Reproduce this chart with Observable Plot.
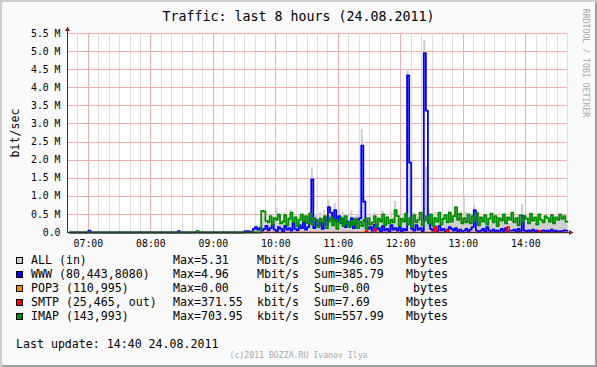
<!DOCTYPE html>
<html><head><meta charset="utf-8">
<script src="https://cdn.jsdelivr.net/npm/d3@7"></script>
<script src="https://cdn.jsdelivr.net/npm/@observablehq/plot@0.6"></script>
<style>
body{margin:0;background:#fff}
#wrap{position:relative;width:597px;height:367px;background:#FAFAFA;box-shadow:inset 2px 2px 0 #CECECE, inset -2px -2px 0 #9E9E9E;font-family:"DejaVu Sans Mono",monospace;color:#000;overflow:hidden}
#wrap svg{position:absolute;left:0;top:0}
#wrap svg line{shape-rendering:crispEdges}
.t{position:absolute;white-space:pre;line-height:1}
.sq{position:absolute;box-sizing:border-box;border:1px solid #000}
</style>
</head><body>
<div id="wrap"></div>
<script>
// ---- data: 2-minute samples starting 06:40 (240 samples), values in Mbit/s ----
const startLabel = "06:40";
const endLabel = "14:40";
const stepMinutes = 2;

const allIn = [
0,0,0,0,0,0.03,0,0,0,0,
0.04,0,0,0,0,0,0,0,0,0,
0,0,0,0,0,0,0,0,0,0,
0,0,0,0,0,0.02,0,0,0,0,
0.02,0,0,0,0,0,0,0,0,0,
0,0,0,0.04,0,0,0,0,0,0,
0,0,0.06,0,0,0.03,0.02,0,0,0,
0,0,0,0,0,0,0,0,0,0,
0,0,0.01,0,0.03,0.05,0.04,0.05,0.03,0.12,
0.20,0.10,0.18,0.30,0.45,0.25,0.35,0.20,0.40,0.30,
0.68,0.25,0.45,0.30,0.55,0.20,0.40,0.62,0.30,0.45,
0.25,0.50,0.35,0.48,0.30,0.40,0.55,1.78,0.30,0.50,
0.40,0.55,0.30,0.60,0.45,0.90,0.70,0.50,0.80,0.45,
0.65,0.40,0.55,0.30,0.50,0.35,0.60,0.25,0.45,0.50,
0.60,2.84,1.00,0.45,0.30,0.50,0.25,0.55,0.35,0.45,
0.30,0.60,0.35,0.45,0.25,0.55,0.40,0.86,0.35,0.50,
0.30,0.45,0.35,4.47,2.00,0.40,0.55,0.35,0.45,0.30,
0.50,5.31,1.82,0.60,0.40,0.30,0.55,0.35,0.45,0.25,
0.50,0.40,0.35,0.60,0.45,0.30,0.55,0.40,0.45,0.35,
1.04,0.55,0.40,0.35,0.45,0.75,0.35,0.45,0.25,0.40,
0.30,0.50,0.35,0.25,0.45,0.30,0.40,0.28,0.35,0.45,
0.30,0.40,0.25,0.45,0.35,0.30,0.50,0.28,0.77,0.40,
0.30,0.45,0.35,0.50,0.25,0.38,0.42,0.30,0.35,0.45,
0.28,0.40,0.35,0.45,0.30,0.38,0.42,0.35,0.40,0.30];

const www = [
0,0,0,0,0,0,0,0,0,0,
0.05,0,0,0,0,0,0,0,0,0,
0,0,0,0,0,0,0,0,0,0,
0,0,0,0,0,0,0,0,0,0,
0,0,0,0,0,0,0,0,0,0,
0,0,0,0.04,0,0,0,0,0,0,
0,0,0.03,0,0,0,0,0,0,0,
0,0,0,0,0,0,0,0,0,0,
0,0,0,0,0,0.04,0.04,0.03,0.02,0.10,
0.15,0.08,0.12,0.05,0.10,0.18,0.06,0.12,0.22,0.08,
0.04,0.15,0.10,0.03,0.18,0.08,0.12,0.05,0.25,0.10,
0.06,0.20,0.12,0.30,0.08,0.15,0.28,1.47,0.12,0.35,
0.20,0.28,0.10,0.40,0.22,0.70,0.55,0.35,0.62,0.30,
0.45,0.25,0.38,0.15,0.30,0.20,0.40,0.12,0.25,0.35,
0.40,2.40,0.85,0.30,0.10,0.15,0.05,0.22,0.08,0.12,
0.03,0.18,0.06,0.10,0.02,0.20,0.08,0.12,0.05,0.15,
0.03,0.10,0.06,4.34,1.93,0.10,0.05,0.20,0.08,0.12,
0.04,4.96,3.37,0.25,0.10,0.05,0.12,0.03,0.18,0.06,
0.10,0.02,0.08,0.15,0.10,0.05,0.12,0.03,0.08,0.02,
0.05,0.10,0.03,0.08,0.15,0.62,0.05,0.02,0.05,0.10,
0.03,0.15,0.05,0.02,0.08,0.03,0.06,0.02,0.10,0.04,
0.12,0.02,0.05,0.05,0.08,0.03,0.10,0.02,0.46,0.05,
0.03,0.06,0.02,0.08,0.03,0.05,0.02,0.04,0.06,0.03,
0.05,0.02,0.08,0.03,0.05,0.02,0.04,0.03,0.06,0.05];

const smtp = [
0,0,0,0,0,0,0,0,0,0,
0,0,0,0,0,0,0,0,0,0,
0,0,0,0,0,0,0,0,0,0,
0,0,0,0,0,0,0,0,0,0,
0,0,0,0,0,0,0,0,0,0,
0,0,0,0,0,0,0,0,0,0,
0,0,0,0,0,0,0,0,0,0,
0,0,0,0,0,0,0,0,0,0,
0,0,0,0,0,0,0,0,0,0,
0,0,0,0,0,0,0,0,0,0,
0,0,0,0,0,0,0,0,0,0,
0,0,0,0,0,0,0,0,0,0,
0,0,0,0,0,0,0,0,0,0,
0,0,0,0,0,0,0,0,0,0,
0,0,0,0.05,0,0,0,0.10,0,0,
0,0,0,0,0,0,0,0,0,0,
0,0,0,0,0,0,0,0,0,0,
0,0,0,0,0,0,0.17,0,0,0,
0,0,0.06,0,0,0,0,0,0,0,
0,0,0,0,0,0,0,0,0,0,
0,0,0,0,0,0,0,0,0,0,
0,0.15,0,0,0,0,0,0,0,0,
0,0,0,0,0,0,0.04,0,0,0,
0,0,0,0,0,0,0,0,0,0];

const imap = [
0,0,0,0,0,0,0,0,0,0,
0,0,0,0,0,0,0,0,0,0,
0,0,0,0,0,0,0,0,0,0,
0,0,0,0,0,0,0,0,0,0,
0,0,0,0,0,0,0,0,0,0,
0,0,0,0,0,0,0,0,0,0,
0,0,0.04,0,0,0,0,0,0,0,
0,0,0,0,0,0,0,0,0,0,
0,0,0,0,0,0,0,0,0,0,
0,0,0,0.60,0.58,0.32,0.28,0.45,0.22,0.40,
0.35,0.50,0.25,0.30,0.48,0.20,0.38,0.55,0.28,0.42,
0.18,0.35,0.50,0.30,0.45,0.25,0.52,0.22,0.40,0.33,
0.15,0.38,0.28,0.45,0.12,0.30,0.42,0.20,0.35,0.10,
0.28,0.40,0.18,0.45,0.25,0.15,0.32,0.22,0.38,0.12,
0.30,0.18,0.35,0.10,0.40,0.22,0.28,0.45,0.15,0.38,
0.30,0.50,0.20,0.42,0.25,0.35,0.28,0.62,0.45,0.18,
0.38,0.30,0.52,0.22,0.40,0.15,0.48,0.28,0.35,0.55,
0.20,0.32,0.45,0.25,0.50,0.18,0.40,0.30,0.55,0.22,
0.38,0.48,0.28,0.55,0.30,0.45,0.70,0.35,0.52,0.25,
0.40,0.28,0.50,0.25,0.45,0.32,0.55,0.20,0.42,0.30,
0.48,0.22,0.38,0.52,0.28,0.45,0.18,0.40,0.33,0.50,
0.25,0.42,0.35,0.55,0.28,0.40,0.20,0.48,0.30,0.45,
0.38,0.25,0.52,0.33,0.42,0.22,0.50,0.35,0.28,0.45,
0.40,0.30,0.48,0.25,0.42,0.35,0.50,0.38,0.45,0.30];

// ---- ticks ----
const yTicks = [0, 0.5e6, 1.0e6, 1.5e6, 2.0e6, 2.5e6, 3.0e6, 3.5e6, 4.0e6, 4.5e6, 5.0e6, 5.5e6];
const yLabels = ["0.0","0.5 M","1.0 M","1.5 M","2.0 M","2.5 M","3.0 M","3.5 M","4.0 M","4.5 M","5.0 M","5.5 M"];
const xTickLabels = ["07:00","08:00","09:00","10:00","11:00","12:00","13:00","14:00"];

// ---- legend ----
const legendNames = ["ALL (in)","WWW (80,443,8080)","POP3 (110,995)","SMTP (25,465, out)","IMAP (143,993)"];
const legendColors = ["#CCCCCC","#0000FF","#FF7F00","#FF0000","#008C00"];
const legendMax = ["5.31","4.96","0.00","371.55","703.95"];
const legendMaxUnit = ["Mbit/s","Mbit/s"," bit/s","kbit/s","kbit/s"];
const legendSum = ["946.65","385.79","0.00","7.69","557.99"];
const legendSumUnit = ["Mbytes","Mbytes"," bytes","Mbytes","Mbytes"];

const titleText = "Traffic: last 8 hours (24.08.2011)";
const yTitle = "bit/sec";
const sideText = "RRDTOOL / TOBI OETIKER";
const lastUpdate = "Last update: 14:40 24.08.2011";
const footer = "(c)2011 BOZZA.RU Ivanov Ilya";

// ---- build ----
const toDate = s => { const [h, m] = s.split(":").map(Number); return new Date(Date.UTC(2011, 7, 24, h, m)); };
const start = toDate(startLabel), end = toDate(endLabel);
const hourTicks = xTickLabels.map(toDate);
const minorTicks = d3.utcMinute.every(10).range(start, new Date(+end + 1));
const rows = allIn.map((v, i) => ({
  t: new Date(+start + (i + 1) * stepMinutes * 60000),
  all: v * 1e6, www: www[i] * 1e6, smtp: smtp[i] * 1e6, imap: imap[i] * 1e6
}));

const plot = Plot.plot({
  width: 597, height: 250,
  marginLeft: 67, marginRight: 30, marginTop: 33, marginBottom: 18,
  style: {background: "transparent", fontFamily: "'DejaVu Sans Mono', monospace", fontSize: "9.8px", color: "#000", overflow: "visible"},
  x: {type: "utc", domain: [start, end]},
  y: {domain: [0, 5.5e6]},
  marks: [
    Plot.frame({fill: "#FFFFFF", stroke: null}),
    Plot.ruleX(minorTicks, {stroke: "#DDDDDD"}),
    Plot.ruleY(yTicks.slice(1), {stroke: "#F0AEAE"}),
    Plot.ruleX(hourTicks, {stroke: "#F0AEAE"}),
    Plot.areaY(rows, {x: "t", y: "all", fill: "#CFCFCF", curve: "step-before"}),
    Plot.lineY(rows, {x: "t", y: "www", stroke: "#0000FF", strokeWidth: 1.8, curve: "step-before"}),
    Plot.lineY(rows, {x: "t", y: "smtp", stroke: "#FF0000", strokeWidth: 1.6, curve: "step-before"}),
    Plot.lineY(rows, {x: "t", y: "imap", stroke: "#008C00", strokeWidth: 1.8, curve: "step-before"}),
    Plot.axisY({ticks: yTicks, tickFormat: d => yLabels[yTicks.indexOf(d)], tickSize: 0, tickPadding: 7, label: null}),
    Plot.axisX({ticks: hourTicks, tickFormat: d => xTickLabels[hourTicks.findIndex(h => +h === +d)], tickSize: 0, tickPadding: 8, label: null})
  ]
});
const wrap = document.getElementById("wrap");
wrap.appendChild(plot);

// axis lines and arrows, positioned through the plot's scales
const X = plot.scale("x"), Y = plot.scale("y");
const x0 = X.apply(start) + 0.5, x1 = X.apply(end) + 0.5, y0 = Y.apply(0) + 0.5, yT = Y.apply(5.5e6) + 0.5;
const g = d3.select(plot).append("g");
g.append("line").attr("x1", x0).attr("x2", x1 + 2).attr("y1", y0).attr("y2", y0).attr("stroke", "#2A3A30");
g.append("line").attr("x1", x0).attr("x2", x0).attr("y1", y0).attr("y2", yT - 3).attr("stroke", "#303030");
g.append("polygon").attr("points", `${x0},${yT - 7} ${x0 - 2.5},${yT - 2.5} ${x0 + 2.5},${yT - 2.5}`).attr("fill", "#8B1A1A");
g.append("polygon").attr("points", `${x1 + 6},${y0} ${x1 + 1.5},${y0 - 2.5} ${x1 + 1.5},${y0 + 2.5}`).attr("fill", "#8B1A1A");

function addText(txt, opts) {
  const d = document.createElement("div");
  d.className = "t";
  d.textContent = txt;
  Object.assign(d.style, opts);
  wrap.appendChild(d);
  return d;
}
addText(titleText, {left: "0px", width: "597px", textAlign: "center", top: "9.8px", fontSize: "13.3px"});
addText(yTitle, {left: "16px", top: "133px", fontSize: "11.6px", transform: "translate(-50%,-50%) rotate(-90deg)"});
addText(sideText, {left: "585.5px", top: "62.5px", fontSize: "8.2px", color: "#A8A8A8", transform: "translate(-50%,-50%) rotate(90deg)"});

legendNames.forEach((name, k) => {
  const cy = 260.7 + 14 * k;
  const sq = document.createElement("div");
  sq.className = "sq";
  Object.assign(sq.style, {left: "16px", top: (cy - 3.5) + "px", width: "7px", height: "7px", background: legendColors[k]});
  wrap.appendChild(sq);
  const top = (cy - 5.6) + "px";
  addText(name, {left: "31px", top, fontSize: "11.6px"});
  addText("Max=" + legendMax[k], {left: "173px", top, fontSize: "11.6px"});
  addText(legendMaxUnit[k], {left: "257px", top, fontSize: "11.6px"});
  addText("Sum=" + legendSum[k], {left: "314px", top, fontSize: "11.6px"});
  addText(legendSumUnit[k], {left: "406px", top, fontSize: "11.6px"});
});
addText(lastUpdate, {left: "16px", top: "338.9px", fontSize: "11.6px"});
addText(footer, {left: "0px", width: "597px", textAlign: "center", top: "350.6px", fontSize: "8.2px", color: "#A8A8A8"});
</script>
</body></html>
